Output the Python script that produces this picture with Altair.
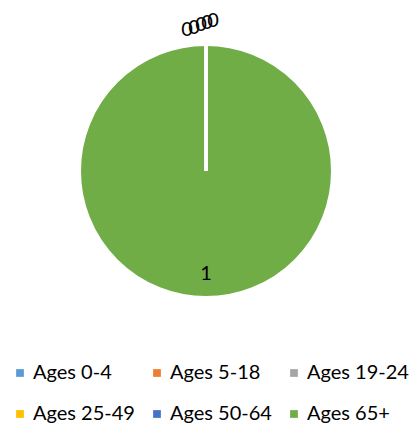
import altair as alt
import pandas as pd

categories = ["Ages 0-4", "Ages 5-18", "Ages 19-24", "Ages 25-49", "Ages 50-64", "Ages 65+"]
values = [0, 0, 0, 0, 0, 1]
colors = ["#5B9BD5", "#ED7D31", "#A5A5A5", "#FFC000", "#4472C4", "#70AD47"]

df = pd.DataFrame({"cat": categories, "val": values, "order": list(range(len(categories)))})

FONT = "Lato"

color = alt.Color(
    "cat:N",
    scale=alt.Scale(domain=categories, range=colors),
    legend=alt.Legend(
        title=None,
        orient="none",
        direction="horizontal",
        legendX=2,
        legendY=355,
        columns=3,
        symbolType="square",
        symbolSize=60,
        symbolStrokeWidth=0,
        labelFontSize=20,
        labelFont=FONT,
        labelColor="#000000",
        columnPadding=12,
        rowPadding=21,
        labelOffset=3,
    ),
)

base = alt.Chart(df).encode(
    theta=alt.Theta("val:Q", stack=True),
    order=alt.Order("order:Q"),
)

pie = base.mark_arc(outerRadius=126, stroke="white", strokeWidth=2).encode(color=color)

# zero-size slices drawn on top so their white borders show as a radial line
zero_slices = base.mark_arc(outerRadius=126, stroke="white", strokeWidth=3).encode(
    color=color
).transform_filter("datum.val == 0")

nonzero = base.mark_text(radius=103, fontSize=20, font=FONT, color="#000000", baseline="middle").encode(
    text="val:Q"
).transform_filter("datum.val > 0")

zero_layers = []
offsets = [(-19, 5), (-12, 3), (-5, 0), (1, -2), (7, -4)]
for i, cat in enumerate(categories[:5]):
    dx, dy = offsets[i]
    zero_layers.append(
        base.mark_text(radius=146, fontSize=20, font=FONT, color="#000000", baseline="middle", dx=dx, dy=dy)
        .encode(text="val:Q")
        .transform_filter(alt.datum.cat == cat)
    )

chart = alt.layer(pie, zero_slices, nonzero, *zero_layers).properties(
    width=396, height=326, padding=0
).configure_view(stroke=None)

chart.save("out.html", embed_options={"renderer": "svg", "actions": False})
